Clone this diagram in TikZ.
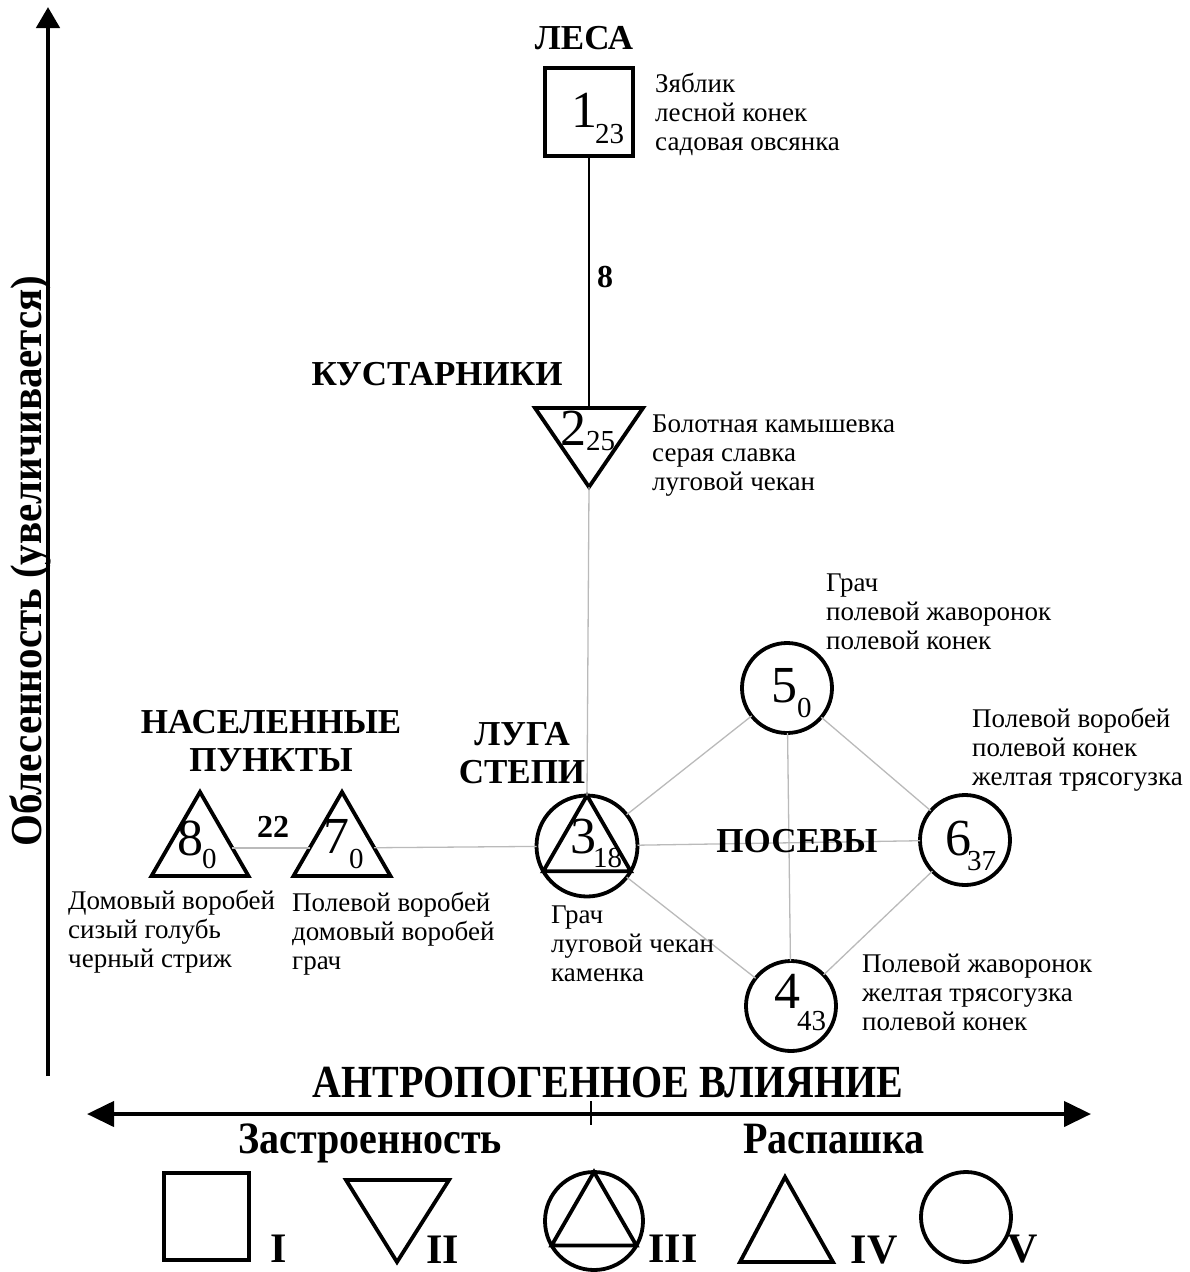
\documentclass[tikz,border=0pt]{standalone}
\usepackage{fontspec}
\setmainfont{Liberation Serif}
\usetikzlibrary{shapes.geometric,arrows.meta}

% digit with a lowered index: #1 digit, #2 index, #3 drop, #4 kern
\newcommand\nmb[4]{{\fontsize{52}{52}\selectfont #1}\kern#4\raisebox{-#3}{\fontsize{29}{29}\selectfont #2}}

\begin{document}
\begin{tikzpicture}[x=1pt,y=-1pt,
  shp/.style={draw, line width=3.8pt, inner sep=0pt, outer sep=0pt},
  tri/.style={shp, regular polygon, regular polygon sides=3, minimum size=#1},
  ring/.style={shp, circle, minimum size=#1},
  link/.style={draw=black!27, line width=1.3pt},
  spec/.style={font=\fontsize{27}{29}\selectfont, align=left, inner sep=0pt, anchor=north west},
  head/.style={font=\fontsize{35}{38.5}\selectfont\bfseries, inner sep=0pt},
  wt/.style={font=\fontsize{32}{32}\selectfont\bfseries, inner sep=0pt},
  big/.style={font=\fontsize{40}{40}\selectfont\bfseries, inner sep=0pt},
  leg/.style={font=\fontsize{42}{42}\selectfont\bfseries, inner sep=0pt, anchor=base},
  num/.style={inner sep=0pt, anchor=base west},
  axisline/.style={line width=4.5pt, -{Triangle[length=21pt,width=23pt]}}
]
\useasboundingbox (0,0) rectangle (1189,1272);

% axes
\draw[axisline] (48,1076) -- (48,7);
\node[big, font=\fontsize{41}{41}\selectfont\bfseries, rotate=90, yscale=1.08, anchor=base] (hObl) at (41,561) {Облесенность (увеличивается)};
\draw[line width=4.2pt, {Triangle[length=27pt,width=25pt]}-{Triangle[length=27pt,width=25pt]}] (87,1114) -- (1091,1114);
\draw[line width=2.5pt] (591,1101) -- (591,1125);
\node[big, yscale=1.15, anchor=base] (hAnt) at (608,1097) {АНТРОПОГЕННОЕ ВЛИЯНИЕ};
\node[big, yscale=1.12, anchor=base] (hZas) at (370,1153) {Застроенность};
\node[big, yscale=1.12, anchor=base] (hRas) at (834,1153) {Распашка};

% habitat nodes
\node[shp, minimum size=88pt] (n1) at (589,112) {};
\coordinate (n2top) at (589,408);
\coordinate (n2apex) at (589,487);
\draw[shp] (535,408) -- (643,408) -- (n2apex) -- cycle;
\node[tri=112pt] (n8) at (200,848) {};
\node[tri=112pt] (n7) at (342,848) {};
\node[ring=101pt] (n3) at (587,846) {};
\node[tri=101pt] (n3t) at (587,846) {};
\node[ring=90pt] (n5) at (787,688) {};
\node[ring=90pt] (n6) at (965,840) {};
\node[ring=90pt] (n4) at (791,1006) {};

% connectors
\draw[line width=1.8pt] (n1.south) -- (n2top);
\path[link] (n2apex) -- (n3.north);
\path[link] (n8) -- (n7);
\path[link] (n7) -- (n3);
\path[link] (n3) -- (n5);
\path[link] (n3) -- (n6);
\path[link] (n3) -- (n4);
\path[link] (n5) -- (n6);
\path[link] (n5) -- (n4);
\path[link] (n6) -- (n4);
\node[wt] (w8) at (605,277) {8};
\node[wt] (w22) at (273,827) {22};

% numbers inside the shapes
\node[num] (l1) at (571,127) {\nmb{1}{23}{16pt}{-2pt}};
\node[num] (l2) at (560,445) {\nmb{2}{25}{5pt}{0pt}};
\node[num] (l8) at (177,855) {\nmb{8}{0}{13pt}{-1pt}};
\node[num] (l7) at (323,853) {\nmb{7}{0}{15pt}{0pt}};
\node[num] (l3) at (570,853) {\nmb{3}{18}{14pt}{-3pt}};
\node[num] (l5) at (771,702) {\nmb{5}{0}{15pt}{0pt}};
\node[num] (l6) at (945,855) {\nmb{6}{37}{15pt}{-4pt}};
\node[num] (l4) at (774,1008) {\nmb{4}{43}{22pt}{-3pt}};

% habitat titles
\node[head, anchor=base] (hLesa) at (584,49) {ЛЕСА};
\node[head, anchor=base] (hKust) at (437,385) {КУСТАРНИКИ};
\node[head, align=center, anchor=north] (hNas) at (271,706) {\strut НАСЕЛЕННЫЕ\\ПУНКТЫ};
\node[head, align=center, anchor=north] (hLug) at (522,718) {\strut ЛУГА\\СТЕПИ};
\node[head, anchor=base] (hPos) at (797,852) {ПОСЕВЫ};

% bird species
\node[spec] (t1) at (655,71.7) {\strut Зяблик\\лесной конек\\садовая овсянка};
\node[spec] (t2) at (652,411.7) {\strut Болотная камышевка\\серая славка\\луговой чекан};
\node[spec] (t5) at (826,570.7) {\strut Грач\\полевой жаворонок\\полевой конек};
\node[spec] (t6) at (972,706.7) {\strut Полевой воробей\\полевой конек\\желтая трясогузка};
\node[spec] (t3) at (551,902.7) {\strut Грач\\луговой чекан\\каменка};
\node[spec] (t4) at (862,951.7) {\strut Полевой жаворонок\\желтая трясогузка\\полевой конек};
\node[spec] (t8) at (68,888.7) {\strut Домовый воробей\\сизый голубь\\черный стриж};
\node[spec] (t7) at (292,890.7) {\strut Полевой воробей\\домовый воробей\\грач};

% legend of habitat types
\draw[shp] (164,1173) rectangle (249,1260);
\node[leg] (g1) at (279,1262) {I};
\draw[shp] (346,1180) -- (449,1180) -- (397,1262) -- cycle;
\node[leg] (g2) at (443,1263) {II};
\draw[shp] (594,1221) circle (49);
\draw[shp] (594,1172) -- (636.4,1245.5) -- (551.6,1245.5) -- cycle;
\node[leg] (g3) at (673,1262) {III};
\draw[shp] (785,1177) -- (833,1262) -- (740,1262) -- cycle;
\node[leg] (g4) at (874,1263) {IV};
\draw[shp] (966,1217) circle (45);
\node[leg] (g5) at (1023,1262) {V};
\end{tikzpicture}
\end{document}
